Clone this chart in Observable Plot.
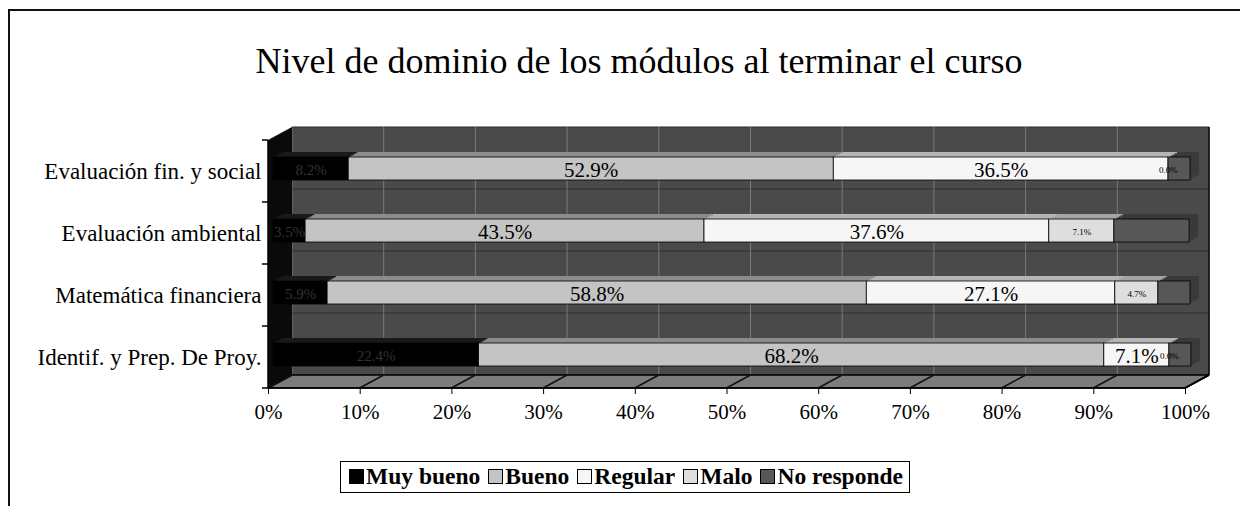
<!DOCTYPE html>
<html><head><meta charset="utf-8">
<script src="https://cdn.jsdelivr.net/npm/d3@7"></script>
<script src="https://cdn.jsdelivr.net/npm/@observablehq/plot@0.6"></script>
<style>
body{margin:0;width:1240px;height:506px;overflow:hidden;background:#fff;font-family:"Liberation Serif","Times New Roman",serif;position:relative}
#frame{position:absolute;left:8px;top:9px;width:1250px;height:520px;border:2px solid #111;box-sizing:border-box}
#title{position:absolute;left:0;width:1278px;top:40px;text-align:center;font-size:36px;color:#000}
#chart{position:absolute;left:0;top:110px}
#legend{position:absolute;left:340px;top:461px;border:1.5px solid #000;padding:1px 6px 2px 0px;font-size:23.5px;font-weight:bold;white-space:nowrap;background:#fff}
#legend span.it{margin-left:8px}
#legend span.sw{display:inline-block;width:13px;height:13px;border:1px solid #000;margin:0 2px 0 0;vertical-align:0px}
</style></head>
<body>
<div id="frame"></div>
<div id="title">Nivel de dominio de los módulos al terminar el curso</div>
<div id="chart"></div>
<div id="legend"></div>
<script>
const modules = ["Evaluación fin. y social", "Evaluación ambiental", "Matemática financiera", "Identif. y Prep. De Proy."];
const levels = ["Muy bueno", "Bueno", "Regular", "Malo", "No responde"];
const muyBueno   = [8.2, 3.5, 5.9, 22.4];
const bueno      = [52.9, 43.5, 58.8, 68.2];
const regular    = [36.5, 37.6, 27.1, 7.1];
const malo       = [0.0, 7.1, 4.7, 0.0];
const noResponde = [2.4, 8.2, 3.5, 2.4];
const xTicks = [0, 10, 20, 30, 40, 50, 60, 70, 80, 90, 100];

const series = [muyBueno, bueno, regular, malo, noResponde];
const frontColor = {"Muy bueno": "#000000", "Bueno": "#c4c4c4", "Regular": "#f6f6f6", "Malo": "#dedede", "No responde": "#575757"};
const sideColor  = {"Muy bueno": "#1a1a1a", "Bueno": "#8c8c8c", "Regular": "#b5b5b5", "Malo": "#a5a5a5", "No responde": "#3a3a3a"};
const labelColor = {"Muy bueno": "#333333", "Bueno": "#000", "Regular": "#000", "Malo": "#000", "No responde": "#333333"};
const labelSize  = {"Muy bueno": 15, "Bueno": 21, "Regular": 21, "Malo": 9, "No responde": 9};

const data = [];
modules.forEach((m, i) => levels.forEach((l, j) => data.push({module: m, level: l, value: series[j][i]})));

const DX = 24, DY = -13;     // depth of the 3D box
const FX = 5, FY = -3;       // bar front offset
const BX = 14, BY = -8;      // bar back offset

function walls(index, scales, values, dims) {
  const x = scales.x;
  const x0 = x(0), x1 = x(100);
  const top = dims.marginTop, bottom = dims.height - dims.marginBottom;
  const g = d3.create("svg:g");
  g.append("rect").attr("x", x0 + DX).attr("y", top + DY).attr("width", x1 - x0).attr("height", bottom - top).attr("fill", "#4a4a4a");
  const step = (bottom - top) / modules.length;
  for (let i = 0; i <= modules.length; i++) {
    g.append("line").attr("x1", x0 + DX).attr("x2", x1 + DX).attr("y1", top + DY + i * step).attr("y2", top + DY + i * step).attr("stroke", "#2a2a2a").attr("stroke-width", 1);
  }
  for (const t of xTicks) {
    g.append("line").attr("x1", x(t) + DX).attr("x2", x(t) + DX).attr("y1", top + DY).attr("y2", bottom + DY).attr("stroke", "#7a7a7a").attr("stroke-width", 1);
  }
  g.append("polygon").attr("points", `${x0},${top} ${x0 + DX},${top + DY} ${x0 + DX},${bottom + DY} ${x0},${bottom}`).attr("fill", "#0a0a0a");
  g.append("polygon").attr("points", `${x0},${bottom} ${x0 + DX},${bottom + DY} ${x1 + DX},${bottom + DY} ${x1},${bottom}`).attr("fill", "#7c7c7c").attr("stroke", "#000").attr("stroke-width", 1.5);
  for (const t of xTicks) {
    g.append("line").attr("x1", x(t)).attr("x2", x(t) + DX).attr("y1", bottom).attr("y2", bottom + DY).attr("stroke", "#111").attr("stroke-width", 1.5);
  }
  g.append("line").attr("x1", x1 + DX).attr("x2", x1 + DX).attr("y1", top + DY).attr("y2", bottom + DY).attr("stroke", "#000").attr("stroke-width", 1.5);
  g.append("line").attr("x1", x0).attr("x2", x0).attr("y1", top).attr("y2", bottom).attr("stroke", "#000").attr("stroke-width", 1.5);
  g.append("line").attr("x1", x0).attr("x2", x1).attr("y1", bottom).attr("y2", bottom).attr("stroke", "#000").attr("stroke-width", 1.5);
  g.append("line").attr("x1", x1).attr("x2", x1 + DX).attr("y1", bottom).attr("y2", bottom + DY).attr("stroke", "#000").attr("stroke-width", 1.5);
  for (let i = 0; i <= modules.length; i++) {
    g.append("line").attr("x1", x0 - 6).attr("x2", x0).attr("y1", top + i * step).attr("y2", top + i * step).attr("stroke", "#000").attr("stroke-width", 1.5);
  }
  return g.node();
}

const depthMarks = [];
const N = 4;
for (let k = N; k >= 1; k--) {
  const f = k / N;
  depthMarks.push(Plot.barX(data, {
    x: "value", y: "module", fill: d => sideColor[d.level],
    dx: FX + (BX - FX) * f, dy: FY + (BY - FY) * f
  }));
}

const chart = Plot.plot({
  width: 1240,
  height: 330,
  marginLeft: 268,
  marginRight: 55,
  marginTop: 30,
  marginBottom: 52,
  style: {fontFamily: "'Liberation Serif', 'Times New Roman', serif", color: "#000", background: "transparent"},
  x: {domain: [0, 100], axis: null},
  y: {domain: modules, paddingInner: 0.63, paddingOuter: 0.315, axis: null},
  color: {type: "identity"},
  marks: [
    walls,
    ...depthMarks,
    Plot.barX(data, {x: "value", y: "module", fill: d => frontColor[d.level], stroke: "#000", strokeWidth: 0.8, dx: FX, dy: FY}),
    Plot.text(data, Plot.stackX({
      x: "value", y: "module",
      filter: d => d.level !== "No responde",
      text: d => d.value.toFixed(1) + "%",
      fill: d => labelColor[d.level],
      fontSize: d => labelSize[d.level],
      fontWeight: d => d.level === "Malo" ? "bold" : "normal",
      dx: FX, dy: FY + 1
    })),
    Plot.axisX({ticks: xTicks, tickFormat: d => d + "%", tickSize: 6, tickPadding: 10, fontSize: 21, anchor: "bottom", label: null}),
    Plot.axisY({tickSize: 0, tickPadding: 7, fontSize: 23, anchor: "left", label: null})
  ]
});
document.getElementById("chart").appendChild(chart);

const legend = document.getElementById("legend");
legend.innerHTML = levels.map(l => `<span class="it"><span class="sw" style="background:${frontColor[l]}"></span>${l}</span>`).join("");
</script>
</body></html>
